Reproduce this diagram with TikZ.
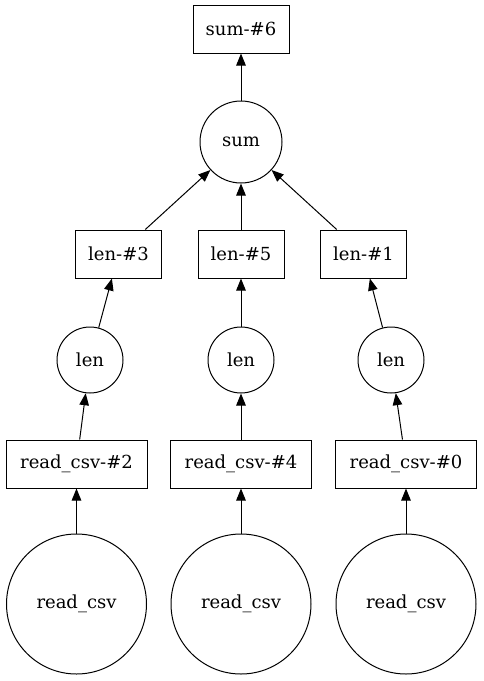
\documentclass[tikz,border=0pt]{standalone}
\usepackage{fontspec}
\setmainfont{DejaVu Serif}
\usetikzlibrary{arrows.meta,positioning}

\begin{document}
\begin{tikzpicture}[x=1pt,y=-1pt,
  task/.style={draw,circle,line width=1pt,inner sep=0pt,font=\fontsize{18}{21}\selectfont},
  key/.style={draw,rectangle,line width=1pt,minimum height=48pt,inner sep=0pt,font=\fontsize{18}{21}\selectfont},
  dep/.style={line width=1pt,-{Triangle[length=12pt,width=9.5pt]}}]
\useasboundingbox (0,0) rectangle (483,681);
\node[key,minimum width=96pt] (sum6) at (241,29) {sum-\#6};
\node[task,minimum size=82pt] (sum) at (241,142) {sum};
\node[key,minimum width=86pt] (len3) at (118.5,254) {len-\#3};
\node[key,minimum width=86pt] (len5) at (241,254) {len-\#5};
\node[key,minimum width=86pt] (len1) at (363.5,254) {len-\#1};
\node[task,minimum size=66pt] (lenA) at (90,360) {len};
\node[task,minimum size=66pt] (lenB) at (241,360) {len};
\node[task,minimum size=66pt] (lenC) at (391,360) {len};
\node[key,minimum width=141pt] (csv2) at (76.5,464) {read\_csv-\#2};
\node[key,minimum width=141pt] (csv4) at (241,464) {read\_csv-\#4};
\node[key,minimum width=141pt] (csv0) at (406,464) {read\_csv-\#0};
\node[task,minimum size=140pt] (readA) at (76.5,604) {read\_csv};
\node[task,minimum size=140pt] (readB) at (241,604) {read\_csv};
\node[task,minimum size=140pt] (readC) at (406,604) {read\_csv};
\draw[dep] (sum) -- (sum6);
\draw[dep] (len3) -- (sum);
\draw[dep] (len5) -- (sum);
\draw[dep] (len1) -- (sum);
\draw[dep] (lenA) -- (len3);
\draw[dep] (lenB) -- (len5);
\draw[dep] (lenC) -- (len1);
\draw[dep] (csv2) -- (lenA);
\draw[dep] (csv4) -- (lenB);
\draw[dep] (csv0) -- (lenC);
\draw[dep] (readA) -- (csv2);
\draw[dep] (readB) -- (csv4);
\draw[dep] (readC) -- (csv0);
\end{tikzpicture}
\end{document}
